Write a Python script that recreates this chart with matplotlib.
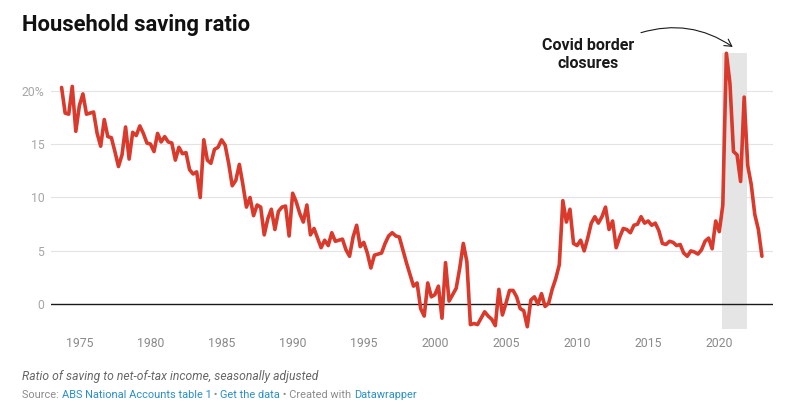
import matplotlib
matplotlib.use("Agg")
import matplotlib.pyplot as plt
from matplotlib.patches import FancyArrowPatch
import numpy as np

plt.rcParams['font.family'] = ['Roboto', 'DejaVu Sans']

# ---- data: quarterly household saving ratio (%), from 1973 Q3 ----
start_year, start_quarter = 1973, 3
saving_ratio = [
    20.3, 17.9, 17.8, 20.4, 16.2, 18.6, 19.7, 17.8, 17.9, 18.0,
    16.0, 14.8, 17.3, 15.7, 15.6, 14.3, 12.9, 14.0, 16.6, 13.6,
    16.1, 15.8, 16.7, 16.0, 15.1, 15.0, 14.3, 16.0, 15.2, 15.7,
    15.2, 15.1, 13.5, 14.7, 14.1, 14.2, 12.6, 12.2, 12.4, 10.0,
    15.4, 13.5, 13.2, 14.5, 14.7, 15.4, 14.9, 13.2, 11.1, 11.6,
    13.1, 11.2, 9.1, 10.0, 8.3, 9.3, 9.1, 6.5, 8.0, 8.9,
    7.0, 8.7, 9.1, 9.2, 6.4, 10.4, 9.6, 8.5, 7.7, 9.3,
    6.5, 7.1, 6.2, 5.3, 6.0, 5.5, 6.7, 5.9, 6.0, 6.1,
    5.1, 4.5, 6.3, 7.4, 5.4, 5.8, 4.8, 3.4, 4.6, 4.7,
    4.8, 5.7, 6.4, 6.7, 6.4, 6.3, 5.1, 3.9, 2.8, 1.7,
    2.0, -0.4, -1.1, 2.0, 0.7, 0.9, 1.7, -1.3, 3.9, 0.3,
    0.9, 1.5, 3.4, 5.7, 4.0, -1.9, -1.8, -1.9, -1.3, -0.7,
    -1.1, -1.4, -2.0, 1.4, -1.0, 0.1, 1.3, 1.3, 0.7, -0.4,
    -0.6, -2.1, 0.4, 0.7, 0.0, 1.0, -0.2, 0.1, 1.4, 2.4,
    3.7, 9.7, 7.7, 8.9, 5.7, 5.5, 6.0, 5.0, 6.2, 7.6,
    8.2, 7.6, 8.2, 9.1, 7.0, 7.8, 5.3, 6.3, 7.1, 7.0,
    6.7, 7.4, 7.5, 8.2, 7.6, 7.8, 7.4, 7.6, 6.9, 5.7,
    5.6, 5.9, 5.8, 5.5, 5.6, 4.8, 4.5, 5.0, 4.9, 4.7,
    5.1, 5.9, 6.2, 5.2, 7.8, 6.8, 9.3, 23.5, 20.7, 14.3,
    14.0, 11.5, 19.4, 13.0, 11.2, 8.4, 7.0, 4.5,
]
x_tick_years = [1975, 1980, 1985, 1990, 1995, 2000, 2005, 2010, 2015, 2020]
y_ticks = [0, 5, 10, 15, 20]
y_tick_labels = ["0", "5", "10", "15", "20%"]
covid_start, covid_end = 2020.2, 2021.96

# quarter-end positions in decimal years
q_index = np.arange(len(saving_ratio))
dates = start_year + start_quarter * 0.25 + 0.25 * q_index

W, H = 786, 415
fig = plt.figure(figsize=(W / 100, H / 100), dpi=100)
fig.patch.set_facecolor('white')

left_px, right_px, top_px, bottom_px = 50.5, 773.3, 53.3, 329.3
ax = fig.add_axes([left_px / W, 1 - bottom_px / H,
                   (right_px - left_px) / W, (bottom_px - top_px) / H])
ax.set_xlim(1972.97, 2023.80)
ax.set_ylim(-2.34, 23.5)
for s in ax.spines.values():
    s.set_visible(False)

for yv in y_ticks[1:]:
    ax.axhline(yv, color='#e3e3e3', lw=0.8, zorder=1)
ax.axvspan(covid_start, covid_end, color='#e5e5e5', lw=0, zorder=1.5)
ax.axhline(0, color='#1a1a1a', lw=1.0, zorder=2)

ax.plot(dates, saving_ratio, color='#d93a2c', lw=2.6, zorder=3,
        solid_joinstyle='round', solid_capstyle='round', clip_on=False)

ax.set_yticks(y_ticks)
ax.set_yticklabels(y_tick_labels)
ax.set_xticks(x_tick_years)
ax.set_xticklabels([str(y) for y in x_tick_years])
ax.tick_params(axis='y', length=0, pad=4.5, labelsize=8.8, labelcolor='#a6a6a6')
ax.tick_params(axis='x', length=0, pad=5.5, labelsize=8.8, labelcolor='#8a8a8a')

# annotation
ax.annotate("Covid border\nclosures", xy=(588.3 / W, 1 - 54.5 / H), xycoords='figure fraction',
            ha='center', va='center', fontsize=11.5, fontweight='bold', color='#1a1a1a',
            linespacing=1.2)
arrow = FancyArrowPatch((638.3 / W, 1 - 33.5 / H), (735 / W, 1 - 48.5 / H),
                        transform=fig.transFigure,
                        connectionstyle="arc3,rad=-0.25",
                        arrowstyle="->,head_length=5,head_width=2.8",
                        color='#1a1a1a', lw=0.8)
fig.patches.append(arrow)

# title
fig.text(22 / W, 1 - 25.5 / H, "Household saving ratio", fontsize=15.8, fontweight='bold',
         color='#111111', ha='left', va='center')

# footer
fig.text(22 / W, 1 - 376.5 / H, "Ratio of saving to net-of-tax income, seasonally adjusted",
         fontsize=8.7, style='italic', color='#666666', ha='left', va='center')

parts = [("Source: ", '#8c8c8c'), ("ABS National Accounts table 1", '#2a8fc9'),
         (" • ", '#8c8c8c'), ("Get the data", '#2a8fc9'),
         (" • Created with ", '#8c8c8c'), ("Datawrapper", '#2a8fc9')]
fig.canvas.draw()
renderer = fig.canvas.get_renderer()
xpos = 22.0
for txt, col in parts:
    t = fig.text(xpos / W, 1 - 395 / H, txt, fontsize=7.9, color=col, ha='left', va='center')
    bb = t.get_window_extent(renderer=renderer)
    xpos += bb.width

fig.savefig("out.png", dpi=100, facecolor='white')
